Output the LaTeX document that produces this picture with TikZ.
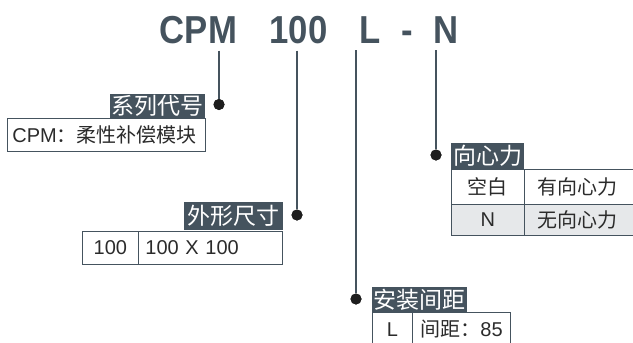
\documentclass[tikz,border=0pt]{standalone}
\usepackage{fontspec}
\setmainfont{Liberation Sans}
\newfontfamily\cjk{Noto Sans CJK SC}
\newfontfamily\titlefont[FakeStretch=0.89]{Liberation Sans}
\usepackage{xcolor}
\usepackage{tikz}
\usetikzlibrary{positioning}
\definecolor{slate}{HTML}{45535E}
\definecolor{dotcol}{HTML}{1E1E1E}
\definecolor{rowgray}{HTML}{E6E8EA}
\definecolor{celltext}{HTML}{2B2B2B}

\begin{document}
\begin{tikzpicture}[x=1pt, y=-1pt,
    code/.style={font=\titlefont\bfseries\fontsize{39}{39}\selectfont, text=slate, inner xsep=0pt, inner ysep=7pt, anchor=base},
    tag/.style={rectangle, fill=slate, text=white, font=\cjk\fontsize{23}{23}\selectfont, inner sep=0pt, anchor=north west},
    cell/.style={rectangle, draw=slate, line width=0.8pt, text=celltext, inner sep=0pt, anchor=north west, font=\fontsize{20}{20}\selectfont},
    lcell/.style={cell, align=left},
    dot/.style={circle, fill=dotcol, inner sep=0pt, minimum size=11pt},
    lead/.style={draw=slate, line width=1.6pt}
]
\useasboundingbox (0,0) rectangle (633,343);
\clip (0,0) rectangle (633,343);

% model code
\node[code] (cpm) at (198.5,43) {CPM};
\node[code] (size) at (298.5,43) {100};
\node[code] (mount) at (370,43) {L};
\node[code] (dash) at (407.5,43) {-};
\node[code] (force) at (446,43) {N};

% end dots
\node[dot] (d1) at (219,104.5) {};
\node[dot] (d2) at (297,215) {};
\node[dot] (d3) at (356,299) {};
\node[dot] (d4) at (436,155) {};

\draw[lead] (cpm.south -| d1) -- (d1);
\draw[lead] (size.south -| d2) -- (d2);
\draw[lead] (mount.south -| d3) -- (d3);
\draw[lead] (force.south -| d4) -- (d4);
\node[dot] at (d1) {};
\node[dot] at (d2) {};
\node[dot] at (d3) {};
\node[dot] at (d4) {};

% series
\node[tag, minimum width=95pt, minimum height=24pt] (series) at (110,94) {系列代号};
\node[lcell, text width=188pt, inner xsep=5pt, minimum height=33pt] (seriesA) at (7,118) {CPM{\cjk ：柔性补偿模块}};

% size
\node[tag, minimum width=99pt, minimum height=28pt] (dim) at (184,202) {外形尺寸};
\node[cell, minimum width=56pt, minimum height=33pt] (dimA) at (82,231) {100};
\node[lcell, text width=130pt, inner xsep=7pt, minimum height=33pt] (dimB) at (138,231) {100 X 100};

% radial force
\node[tag, minimum width=73pt, minimum height=26pt] (radial) at (451,143) {向心力};
\node[cell, minimum width=73pt, minimum height=35pt] (radA) at (451,169) {\cjk 空白};
\node[lcell, text width=120pt, inner xsep=13pt, minimum height=35pt] (radB) at (524,169) {\cjk 有向心力};
\node[cell, fill=rowgray, minimum width=73pt, minimum height=31pt] (radC) at (451,204) {N};
\node[lcell, fill=rowgray, text width=120pt, inner xsep=13pt, minimum height=31pt] (radD) at (524,204) {\cjk 无向心力};

% mounting
\node[tag, minimum width=95pt, minimum height=25pt] (pitch) at (372,287) {安装间距};
\node[cell, minimum width=40pt, minimum height=34pt] (pitchA) at (372,312) {L};
\node[lcell, text width=82pt, inner xsep=8pt, minimum height=34pt] (pitchB) at (412,312) {{\cjk 间距：}85};

\end{tikzpicture}
\end{document}
